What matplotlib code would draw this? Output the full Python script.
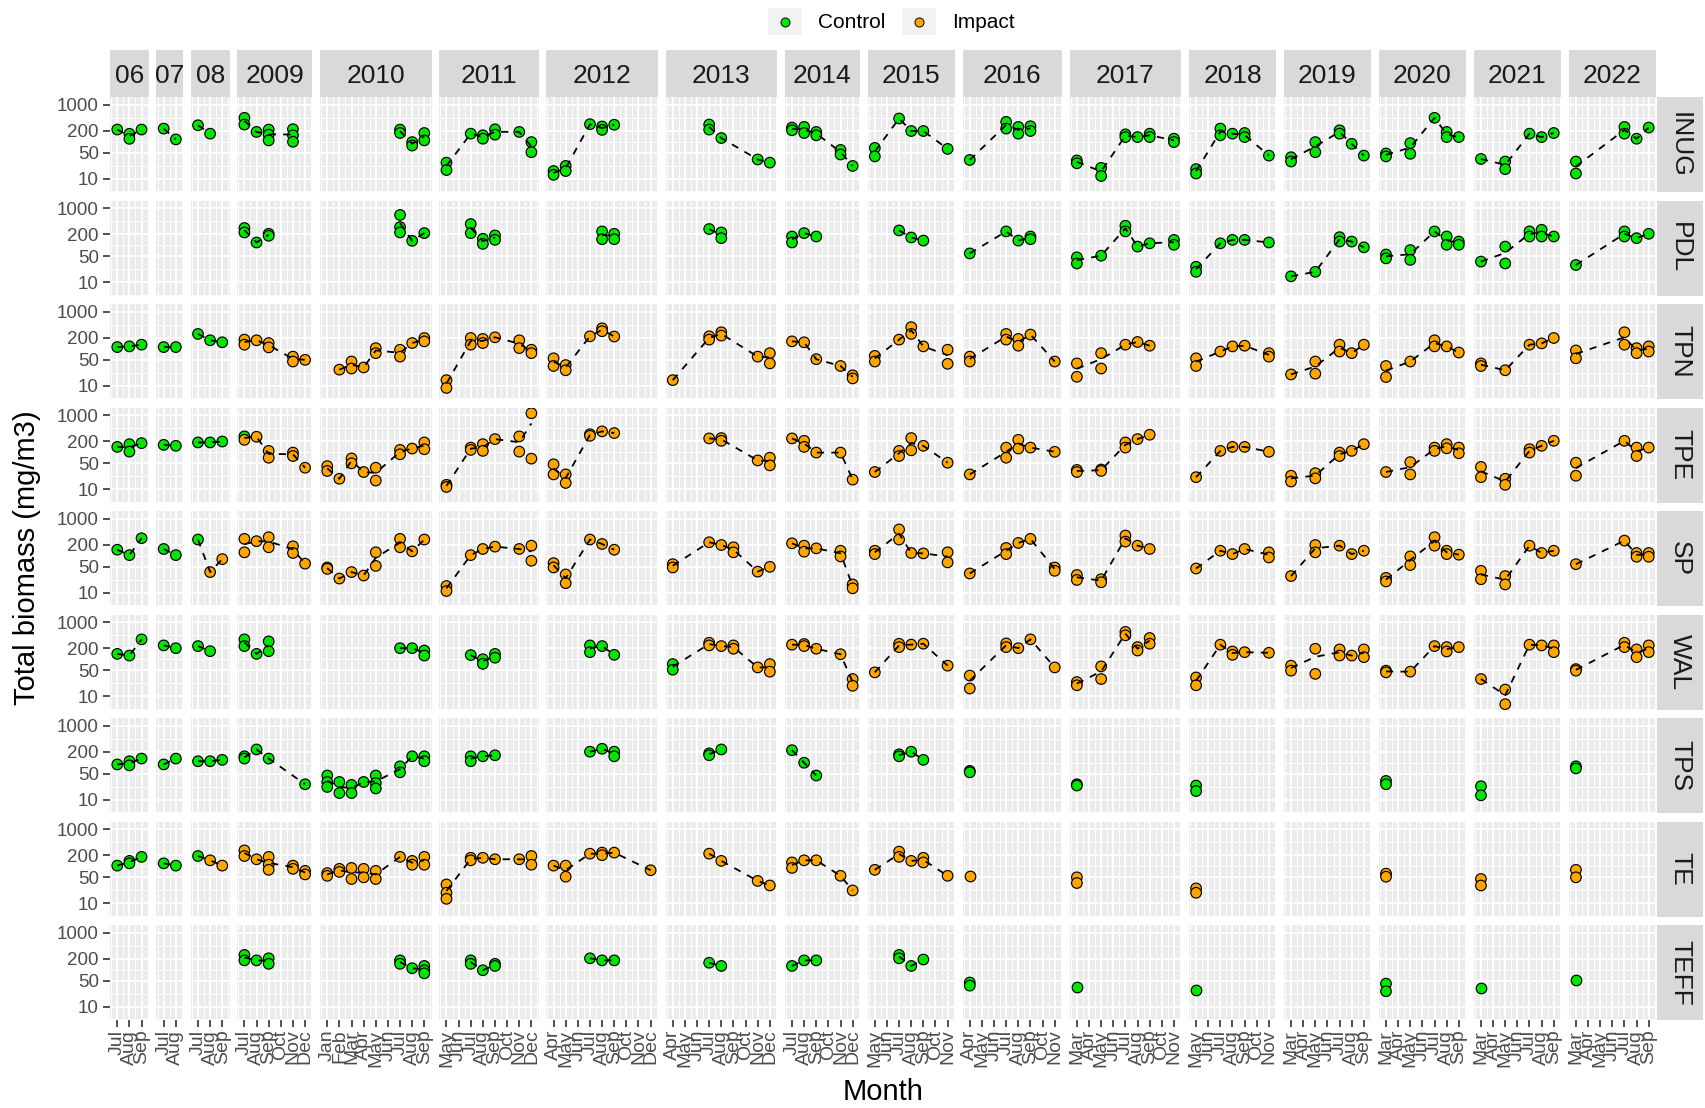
import matplotlib
matplotlib.use("Agg")
import matplotlib.pyplot as plt
from matplotlib.patches import Rectangle
from matplotlib.lines import Line2D
from matplotlib.ticker import FixedLocator, NullFormatter

plt.rcParams['font.family'] = ['Liberation Sans', 'DejaVu Sans']

MONTHS = ["Jan", "Feb", "Mar", "Apr", "May", "Jun", "Jul", "Aug", "Sep", "Oct", "Nov", "Dec"]
years = ["06", "07", "08", "2009", "2010", "2011", "2012", "2013", "2014", "2015",
         "2016", "2017", "2018", "2019", "2020", "2021", "2022"]
year_first = ["Jul", "Jul", "Jul", "Jul", "Jan", "May", "Apr", "Apr", "Jul", "May",
              "Apr", "Mar", "May", "Mar", "Mar", "Mar", "Mar"]
year_last = ["Sep", "Aug", "Sep", "Dec", "Sep", "Dec", "Dec", "Dec", "Dec", "Nov",
             "Nov", "Nov", "Nov", "Sep", "Sep", "Sep", "Sep"]
sites = ["INUG", "PDL", "TPN", "TPE", "SP", "WAL", "TPS", "TE", "TEFF"]
y_breaks = [10, 50, 200, 1000]
y_minor = [4.472, 22.36, 100, 447.2]
group_names = {"C": "Control", "I": "Impact"}
group_colors = {"C": "#00E600", "I": "#FFA500"}

# (year, month, group, values)
INUG = [
    ("06", "Jul", "C", [215]), ("06", "Aug", "C", [165, 120]), ("06", "Sep", "C", [215]),
    ("07", "Jul", "C", [228]), ("07", "Aug", "C", [116]),
    ("08", "Jul", "C", [281]), ("08", "Aug", "C", [166]),
    ("2009", "Jul", "C", [448, 294]), ("2009", "Aug", "C", [185]), ("2009", "Sep", "C", [214, 156, 109]),
    ("2009", "Nov", "C", [220, 150, 100]),
    ("2010", "Jul", "C", [214, 173]), ("2010", "Aug", "C", [98, 79]), ("2010", "Sep", "C", [173, 109]),
    ("2011", "May", "C", [27, 17]), ("2011", "Jul", "C", [166]), ("2011", "Aug", "C", [150, 121]),
    ("2011", "Sep", "C", [218, 156]), ("2011", "Nov", "C", [185]), ("2011", "Dec", "C", [98, 52]),
    ("2012", "Apr", "C", [16, 12.6]), ("2012", "May", "C", [22, 16]), ("2012", "Jul", "C", [300]),
    ("2012", "Aug", "C", [260, 210]), ("2012", "Sep", "C", [290]),
    ("2013", "Jul", "C", [294, 214]), ("2013", "Aug", "C", [126]), ("2013", "Nov", "C", [33]), ("2013", "Dec", "C", [27]),
    ("2014", "Jul", "C", [243, 205]), ("2014", "Aug", "C", [253, 173]), ("2014", "Sep", "C", [185, 150]),
    ("2014", "Nov", "C", [60, 45]), ("2014", "Dec", "C", [22]),
    ("2015", "May", "C", [68, 40]), ("2015", "Jul", "C", [430]), ("2015", "Aug", "C", [196]),
    ("2015", "Sep", "C", [196]), ("2015", "Nov", "C", [64]),
    ("2016", "Apr", "C", [32]), ("2016", "Jul", "C", [348, 228]), ("2016", "Aug", "C", [253, 166]),
    ("2016", "Sep", "C", [264, 196]),
    ("2017", "Mar", "C", [31, 26]), ("2017", "May", "C", [19.5, 11.7]), ("2017", "Jul", "C", [159, 134]),
    ("2017", "Aug", "C", [134]), ("2017", "Sep", "C", [166, 134]), ("2017", "Nov", "C", [121, 98]),
    ("2018", "May", "C", [18, 13.7]), ("2018", "Jul", "C", [228, 150]), ("2018", "Aug", "C", [166]),
    ("2018", "Sep", "C", [173, 134]), ("2018", "Nov", "C", [42]),
    ("2019", "Mar", "C", [38, 29]), ("2019", "May", "C", [98, 52]), ("2019", "Jul", "C", [205, 166]),
    ("2019", "Aug", "C", [88]), ("2019", "Sep", "C", [42]),
    ("2020", "Mar", "C", [48, 40]), ("2020", "May", "C", [92, 47]), ("2020", "Jul", "C", [448]),
    ("2020", "Aug", "C", [185, 134]), ("2020", "Sep", "C", [134]),
    ("2021", "Mar", "C", [34]), ("2021", "May", "C", [29, 18]), ("2021", "Jul", "C", [166]),
    ("2021", "Aug", "C", [134]), ("2021", "Sep", "C", [173]),
    ("2022", "Mar", "C", [29, 13.7]), ("2022", "Jul", "C", [253, 166]), ("2022", "Aug", "C", [121]),
    ("2022", "Sep", "C", [243]),
]

PDL = [
    ("2009", "Jul", "C", [294, 223]), ("2009", "Aug", "C", [119]), ("2009", "Sep", "C", [205, 181]),
    ("2010", "Jul", "C", [669, 313, 223]), ("2010", "Aug", "C", [132]), ("2010", "Sep", "C", [214]),
    ("2011", "Jul", "C", [378, 214]), ("2011", "Aug", "C", [150, 109]), ("2011", "Sep", "C", [185, 140]),
    ("2012", "Aug", "C", [238, 146]), ("2012", "Sep", "C", [205, 146]),
    ("2013", "Jul", "C", [276]), ("2013", "Aug", "C", [223, 156]),
    ("2014", "Jul", "C", [173, 119]), ("2014", "Aug", "C", [214]), ("2014", "Sep", "C", [173]),
    ("2015", "Jul", "C", [253]), ("2015", "Aug", "C", [163]), ("2015", "Sep", "C", [134]),
    ("2016", "Apr", "C", [60]), ("2016", "Jul", "C", [238]), ("2016", "Aug", "C", [134]),
    ("2016", "Sep", "C", [173, 146]),
    ("2017", "Mar", "C", [47, 32]), ("2017", "May", "C", [52]), ("2017", "Jul", "C", [340, 238]),
    ("2017", "Aug", "C", [92]), ("2017", "Sep", "C", [113]), ("2017", "Nov", "C", [140, 103]),
    ("2018", "May", "C", [26, 19]), ("2018", "Jul", "C", [113]), ("2018", "Aug", "C", [140]),
    ("2018", "Sep", "C", [140]), ("2018", "Nov", "C", [119]),
    ("2019", "Mar", "C", [14.3]), ("2019", "May", "C", [19]), ("2019", "Jul", "C", [166, 126]),
    ("2019", "Aug", "C", [126]), ("2019", "Sep", "C", [88]),
    ("2020", "Mar", "C", [56, 44]), ("2020", "May", "C", [74, 40]), ("2020", "Jul", "C", [238]),
    ("2020", "Aug", "C", [173, 103]), ("2020", "Sep", "C", [126, 103]),
    ("2021", "Mar", "C", [36]), ("2021", "May", "C", [92, 32]), ("2021", "Jul", "C", [238, 173]),
    ("2021", "Aug", "C", [264, 173]), ("2021", "Sep", "C", [173]),
    ("2022", "Mar", "C", [29]), ("2022", "Jul", "C", [238, 173]), ("2022", "Aug", "C", [156]),
    ("2022", "Sep", "C", [205]),
]

TPN = [
    ("06", "Jul", "C", [111]), ("06", "Aug", "C", [116]), ("06", "Sep", "C", [129]),
    ("07", "Jul", "C", [111]), ("07", "Aug", "C", [111]),
    ("08", "Jul", "C", [253]), ("08", "Aug", "C", [170]), ("08", "Sep", "C", [150]),
    ("2009", "Jul", "I", [177, 129]), ("2009", "Aug", "I", [170]), ("2009", "Sep", "I", [143, 109]),
    ("2009", "Nov", "I", [61, 45]), ("2009", "Dec", "I", [50]),
    ("2010", "Feb", "I", [27]), ("2010", "Mar", "I", [45, 29]), ("2010", "Apr", "I", [31]),
    ("2010", "May", "I", [104, 76]), ("2010", "Jul", "I", [94, 61]), ("2010", "Aug", "I", [143]),
    ("2010", "Sep", "I", [196, 159]),
    ("2011", "May", "I", [14, 8.6]), ("2011", "Jul", "I", [196, 129]), ("2011", "Aug", "I", [185, 143]),
    ("2011", "Sep", "I", [205]), ("2011", "Nov", "I", [170, 104]), ("2011", "Dec", "I", [94, 76]),
    ("2012", "Apr", "I", [55, 34]), ("2012", "May", "I", [36, 26]), ("2012", "Jul", "I", [218]),
    ("2012", "Aug", "I", [360, 300]), ("2012", "Sep", "I", [215]),
    ("2013", "Apr", "I", [14]), ("2013", "Jul", "I", [218, 177]), ("2013", "Aug", "I", [281, 228]),
    ("2013", "Nov", "I", [61]), ("2013", "Dec", "I", [76, 40]),
    ("2014", "Jul", "I", [159]), ("2014", "Aug", "I", [150]), ("2014", "Sep", "I", [52]),
    ("2014", "Nov", "I", [34]), ("2014", "Dec", "I", [19, 15.6]),
    ("2015", "May", "I", [64, 45]), ("2015", "Jul", "I", [177]), ("2015", "Aug", "I", [387, 253]),
    ("2015", "Sep", "I", [116]), ("2015", "Nov", "I", [94, 39]),
    ("2016", "Apr", "I", [61, 45]), ("2016", "Jul", "I", [253, 177]), ("2016", "Aug", "I", [185, 121]),
    ("2016", "Sep", "I", [243]), ("2016", "Nov", "I", [45]),
    ("2017", "Mar", "I", [40, 17.3]), ("2017", "May", "I", [76, 29]), ("2017", "Jul", "I", [129]),
    ("2017", "Aug", "I", [153]), ("2017", "Sep", "I", [121]),
    ("2018", "May", "I", [55, 34]), ("2018", "Jul", "I", [84]), ("2018", "Aug", "I", [116]),
    ("2018", "Sep", "I", [121]), ("2018", "Nov", "I", [76, 61]),
    ("2019", "Mar", "I", [20]), ("2019", "May", "I", [45, 21]), ("2019", "Jul", "I", [129, 84]),
    ("2019", "Aug", "I", [76]), ("2019", "Sep", "I", [129]),
    ("2020", "Mar", "I", [34, 17]), ("2020", "May", "I", [45]), ("2020", "Jul", "I", [170, 116]),
    ("2020", "Aug", "I", [116]), ("2020", "Sep", "I", [79]),
    ("2021", "Mar", "I", [40, 34]), ("2021", "May", "I", [26]), ("2021", "Jul", "I", [129]),
    ("2021", "Aug", "I", [140]), ("2021", "Sep", "I", [196]),
    ("2022", "Mar", "I", [90, 55]), ("2022", "Jul", "I", [281, 129]), ("2022", "Aug", "I", [104, 76]),
    ("2022", "Sep", "I", [116, 84]),
]

TPE = [
    ("06", "Jul", "C", [140]), ("06", "Aug", "C", [166, 104]), ("06", "Sep", "C", [177]),
    ("07", "Jul", "C", [159]), ("07", "Aug", "C", [150]),
    ("08", "Jul", "C", [185]), ("08", "Aug", "C", [185]), ("08", "Sep", "C", [196]),
    ("2009", "Jul", "C", [270]), ("2009", "Jul", "I", [218]), ("2009", "Aug", "I", [264]),
    ("2009", "Sep", "I", [109, 71]), ("2009", "Nov", "I", [98, 79]), ("2009", "Dec", "I", [38]),
    ("2010", "Jan", "I", [42, 31]), ("2010", "Feb", "I", [19]), ("2010", "Mar", "I", [68, 50]),
    ("2010", "Apr", "I", [29]), ("2010", "May", "I", [38, 17]), ("2010", "Jul", "I", [116, 88]),
    ("2010", "Aug", "I", [126]), ("2010", "Sep", "I", [185, 121]),
    ("2011", "May", "I", [13, 11.4]), ("2011", "Jul", "I", [134, 116]), ("2011", "Aug", "I", [166, 109]),
    ("2011", "Sep", "I", [228]), ("2011", "Nov", "I", [270, 104]), ("2011", "Dec", "I", [1150, 67]),
    ("2012", "Apr", "I", [47, 25]), ("2012", "May", "I", [25, 14.6]), ("2012", "Jul", "I", [310, 280]),
    ("2012", "Aug", "I", [370]), ("2012", "Sep", "I", [333]),
    ("2013", "Jul", "I", [238]), ("2013", "Aug", "I", [243, 205]), ("2013", "Nov", "I", [60]),
    ("2013", "Dec", "I", [71, 44]),
    ("2014", "Jul", "I", [238]), ("2014", "Aug", "I", [205, 140]), ("2014", "Sep", "I", [98]),
    ("2014", "Nov", "I", [98]), ("2014", "Dec", "I", [18]),
    ("2015", "May", "I", [29]), ("2015", "Jul", "I", [109, 79]), ("2015", "Aug", "I", [243, 113]),
    ("2015", "Sep", "I", [150]), ("2015", "Nov", "I", [52]),
    ("2016", "Apr", "I", [25]), ("2016", "Jul", "I", [134, 71]), ("2016", "Aug", "I", [218, 126]),
    ("2016", "Sep", "I", [134]), ("2016", "Nov", "I", [103]),
    ("2017", "Mar", "I", [33, 29]), ("2017", "May", "I", [34, 31]), ("2017", "Jul", "I", [185, 134]),
    ("2017", "Aug", "I", [228]), ("2017", "Sep", "I", [300]),
    ("2018", "May", "I", [21]), ("2018", "Jul", "I", [109]), ("2018", "Aug", "I", [140]),
    ("2018", "Sep", "I", [140]), ("2018", "Nov", "I", [103]),
    ("2019", "Mar", "I", [23, 16]), ("2019", "May", "I", [27, 19.5]), ("2019", "Jul", "I", [98, 79]),
    ("2019", "Aug", "I", [109]), ("2019", "Sep", "I", [166]),
    ("2020", "Mar", "I", [29]), ("2020", "May", "I", [54, 25]), ("2020", "Jul", "I", [134, 109]),
    ("2020", "Aug", "I", [166, 128]), ("2020", "Sep", "I", [134, 94]),
    ("2021", "Mar", "I", [40, 21]), ("2021", "May", "I", [19, 13]), ("2021", "Jul", "I", [121, 98]),
    ("2021", "Aug", "I", [150]), ("2021", "Sep", "I", [205]),
    ("2022", "Mar", "I", [52, 23]), ("2022", "Jul", "I", [205]), ("2022", "Aug", "I", [134, 79]),
    ("2022", "Sep", "I", [134]),
]

SP = [
    ("06", "Jul", "C", [146]), ("06", "Aug", "C", [104]), ("06", "Sep", "C", [300]),
    ("07", "Jul", "C", [153]), ("07", "Aug", "C", [104]),
    ("08", "Jul", "C", [276]), ("08", "Aug", "I", [36]), ("08", "Sep", "I", [81]),
    ("2009", "Jul", "I", [288, 124]), ("2009", "Aug", "I", [249]), ("2009", "Sep", "I", [320, 170]),
    ("2009", "Nov", "I", [181, 119]), ("2009", "Dec", "I", [61]),
    ("2010", "Jan", "I", [48, 44]), ("2010", "Feb", "I", [24]), ("2010", "Mar", "I", [36]),
    ("2010", "Apr", "I", [29]), ("2010", "May", "I", [124, 53]), ("2010", "Jul", "I", [288, 170]),
    ("2010", "Aug", "I", [132]), ("2010", "Sep", "I", [276]),
    ("2011", "May", "I", [15, 11]), ("2011", "Jul", "I", [104]), ("2011", "Aug", "I", [153]),
    ("2011", "Sep", "I", [177]), ("2011", "Nov", "I", [153]), ("2011", "Dec", "I", [188, 73]),
    ("2012", "Apr", "I", [63, 48]), ("2012", "May", "I", [31, 18]), ("2012", "Jul", "I", [276]),
    ("2012", "Aug", "I", [209]), ("2012", "Sep", "I", [146]),
    ("2013", "Apr", "I", [59, 48]), ("2013", "Jul", "I", [233]), ("2013", "Aug", "I", [196]),
    ("2013", "Sep", "I", [170, 124]), ("2013", "Nov", "I", [37]), ("2013", "Dec", "I", [50]),
    ("2014", "Jul", "I", [218]), ("2014", "Aug", "I", [188, 129]), ("2014", "Sep", "I", [159]),
    ("2014", "Nov", "I", [137, 96]), ("2014", "Dec", "I", [16.6, 13]),
    ("2015", "May", "I", [137, 111]), ("2015", "Jul", "I", [520, 276]), ("2015", "Aug", "I", [119]),
    ("2015", "Sep", "I", [116]), ("2015", "Nov", "I", [124, 66]),
    ("2016", "Apr", "I", [33]), ("2016", "Jul", "I", [163, 111]), ("2016", "Aug", "I", [223]),
    ("2016", "Sep", "I", [288]), ("2016", "Nov", "I", [48, 39]),
    ("2017", "Mar", "I", [30, 22]), ("2017", "May", "I", [23, 19]), ("2017", "Jul", "I", [355, 243]),
    ("2017", "Aug", "I", [188]), ("2017", "Sep", "I", [153]),
    ("2018", "May", "I", [45]), ("2018", "Jul", "I", [137]), ("2018", "Aug", "I", [111]),
    ("2018", "Sep", "I", [153]), ("2018", "Nov", "I", [124, 90]),
    ("2019", "Mar", "I", [28]), ("2019", "May", "I", [196, 124]), ("2019", "Jul", "I", [188]),
    ("2019", "Aug", "I", [111]), ("2019", "Sep", "I", [137]),
    ("2020", "Mar", "I", [25, 20]), ("2020", "May", "I", [96, 56]), ("2020", "Jul", "I", [320, 188]),
    ("2020", "Aug", "I", [137, 111]), ("2020", "Sep", "I", [107]),
    ("2021", "Mar", "I", [39, 23]), ("2021", "May", "I", [28, 16.6]), ("2021", "Jul", "I", [188]),
    ("2021", "Aug", "I", [119]), ("2021", "Sep", "I", [137]),
    ("2022", "Mar", "I", [59]), ("2022", "Jul", "I", [258]), ("2022", "Aug", "I", [119, 94]),
    ("2022", "Sep", "I", [119, 94]),
]

WAL = [
    ("06", "Jul", "C", [140]), ("06", "Aug", "C", [126]), ("06", "Sep", "C", [348]),
    ("07", "Jul", "C", [238]), ("07", "Aug", "C", [200]),
    ("08", "Jul", "C", [228]), ("08", "Aug", "C", [166]),
    ("2009", "Jul", "C", [348, 228]), ("2009", "Aug", "C", [140]), ("2009", "Sep", "C", [306, 166]),
    ("2010", "Jul", "C", [200]), ("2010", "Aug", "C", [200]), ("2010", "Sep", "C", [173, 126]),
    ("2011", "Jul", "C", [130]), ("2011", "Aug", "C", [100, 75]), ("2011", "Sep", "C", [140, 110]),
    ("2012", "Jul", "C", [238, 156]), ("2012", "Aug", "C", [228]), ("2012", "Sep", "C", [132]),
    ("2013", "Apr", "C", [74, 52]), ("2013", "Jul", "I", [281, 238]), ("2013", "Aug", "I", [228]),
    ("2013", "Sep", "I", [238, 193]), ("2013", "Nov", "I", [60]), ("2013", "Dec", "I", [74, 46]),
    ("2014", "Jul", "I", [249]), ("2014", "Aug", "I", [260, 228]), ("2014", "Sep", "I", [193]),
    ("2014", "Nov", "I", [137]), ("2014", "Dec", "I", [29, 19]),
    ("2015", "May", "I", [44]), ("2015", "Jul", "I", [264, 214]), ("2015", "Aug", "I", [250]),
    ("2015", "Sep", "I", [265]), ("2015", "Nov", "I", [67]),
    ("2016", "Apr", "I", [36, 16]), ("2016", "Jul", "I", [270, 214]), ("2016", "Aug", "I", [200]),
    ("2016", "Sep", "I", [348]), ("2016", "Nov", "I", [60]),
    ("2017", "Mar", "I", [24, 19.6]), ("2017", "May", "I", [64, 29]), ("2017", "Jul", "I", [555, 448]),
    ("2017", "Aug", "I", [214, 173]), ("2017", "Sep", "I", [378, 264]),
    ("2018", "May", "I", [32, 19.6]), ("2018", "Jul", "I", [249]), ("2018", "Aug", "I", [163, 132]),
    ("2018", "Sep", "I", [156]), ("2018", "Nov", "I", [150]),
    ("2019", "Mar", "I", [67, 49]), ("2019", "May", "I", [193, 40]), ("2019", "Jul", "I", [185, 126]),
    ("2019", "Aug", "I", [126]), ("2019", "Sep", "I", [185, 114]),
    ("2020", "Mar", "I", [49, 44]), ("2020", "May", "I", [46]), ("2020", "Jul", "I", [228]),
    ("2020", "Aug", "I", [214, 163]), ("2020", "Sep", "I", [214]),
    ("2021", "Mar", "I", [29]), ("2021", "May", "I", [15, 6.0]), ("2021", "Jul", "I", [249]),
    ("2021", "Aug", "I", [238]), ("2021", "Sep", "I", [238, 156]),
    ("2022", "Mar", "I", [54, 49]), ("2022", "Jul", "I", [281, 214]), ("2022", "Aug", "I", [185, 114]),
    ("2022", "Sep", "I", [238, 156]),
]

TPS = [
    ("06", "Jul", "C", [90]), ("06", "Aug", "C", [110, 85]), ("06", "Sep", "C", [130]),
    ("07", "Jul", "C", [90]), ("07", "Aug", "C", [130]),
    ("08", "Jul", "C", [110]), ("08", "Aug", "C", [110]), ("08", "Sep", "C", [120]),
    ("2009", "Jul", "C", [150, 130]), ("2009", "Aug", "C", [230]), ("2009", "Sep", "C", [130]),
    ("2009", "Dec", "C", [26]),
    ("2010", "Jan", "C", [45, 30, 22]), ("2010", "Feb", "C", [30, 15]), ("2010", "Mar", "C", [25, 15]),
    ("2010", "Apr", "C", [30]), ("2010", "May", "C", [45, 28, 20]), ("2010", "Jul", "C", [80, 55]),
    ("2010", "Aug", "C", [150]), ("2010", "Sep", "C", [150, 110]),
    ("2011", "Jul", "C", [150, 110]), ("2011", "Aug", "C", [150]), ("2011", "Sep", "C", [160]),
    ("2012", "Jul", "C", [200]), ("2012", "Aug", "C", [240]), ("2012", "Sep", "C", [200, 150]),
    ("2013", "Jul", "C", [180, 160]), ("2013", "Aug", "C", [230]),
    ("2014", "Jul", "C", [220]), ("2014", "Aug", "C", [100]), ("2014", "Sep", "C", [45]),
    ("2015", "Jul", "C", [170, 150]), ("2015", "Aug", "C", [200]), ("2015", "Sep", "C", [120]),
    ("2016", "Apr", "C", [60, 55]),
    ("2017", "Mar", "C", [26, 24]),
    ("2018", "May", "C", [24, 17]),
    ("2020", "Mar", "C", [32, 26]),
    ("2021", "Mar", "C", [23, 13]),
    ("2022", "Mar", "C", [80, 70]),
]

TE = [
    ("06", "Jul", "C", [104]), ("06", "Aug", "C", [140, 120]), ("06", "Sep", "C", [180]),
    ("07", "Jul", "C", [120]), ("07", "Aug", "C", [104]),
    ("08", "Jul", "C", [190]), ("08", "Aug", "I", [145]), ("08", "Sep", "I", [104]),
    ("2009", "Jul", "I", [270, 190]), ("2009", "Aug", "I", [155]), ("2009", "Sep", "I", [180, 110, 80]),
    ("2009", "Nov", "I", [104, 85]), ("2009", "Dec", "I", [75, 60]),
    ("2010", "Jan", "I", [65, 55]), ("2010", "Feb", "I", [85, 70]), ("2010", "Mar", "I", [90, 45]),
    ("2010", "Apr", "I", [85, 50]), ("2010", "May", "I", [75, 45]), ("2010", "Jul", "I", [180]),
    ("2010", "Aug", "I", [140, 110]), ("2010", "Sep", "I", [180, 110]),
    ("2011", "May", "I", [32, 19, 13]), ("2011", "Jul", "I", [170, 145]), ("2011", "Aug", "I", [170]),
    ("2011", "Sep", "I", [155]), ("2011", "Nov", "I", [155]), ("2011", "Dec", "I", [190, 110]),
    ("2012", "Apr", "I", [104]), ("2012", "May", "I", [104, 52]), ("2012", "Jul", "I", [220]),
    ("2012", "Aug", "I", [235, 200]), ("2012", "Sep", "I", [235]), ("2012", "Dec", "I", [78]),
    ("2013", "Jul", "I", [220]), ("2013", "Aug", "I", [140]), ("2013", "Nov", "I", [40]),
    ("2013", "Dec", "I", [30]),
    ("2014", "Jul", "I", [127, 90]), ("2014", "Aug", "I", [145]), ("2014", "Sep", "I", [145]),
    ("2014", "Nov", "I", [55]), ("2014", "Dec", "I", [22]),
    ("2015", "May", "I", [80]), ("2015", "Jul", "I", [250, 180]), ("2015", "Aug", "I", [140]),
    ("2015", "Sep", "I", [170, 127]), ("2015", "Nov", "I", [55]),
    ("2016", "Apr", "I", [55]),
    ("2017", "Mar", "I", [50, 35]),
    ("2018", "May", "I", [25, 19]),
    ("2020", "Mar", "I", [63, 52]),
    ("2021", "Mar", "I", [45, 30]),
    ("2022", "Mar", "I", [80, 50]),
]

TEFF = [
    ("2009", "Jul", "C", [253, 180]), ("2009", "Aug", "C", [180]), ("2009", "Sep", "C", [205, 145]),
    ("2010", "Jul", "C", [180, 145]), ("2010", "Aug", "C", [110]), ("2010", "Sep", "C", [127, 97, 80]),
    ("2011", "Jul", "C", [180, 145]), ("2011", "Aug", "C", [97]), ("2011", "Sep", "C", [145, 127]),
    ("2012", "Jul", "C", [205]), ("2012", "Aug", "C", [180]), ("2012", "Sep", "C", [180]),
    ("2013", "Jul", "C", [155]), ("2013", "Aug", "C", [127]),
    ("2014", "Jul", "C", [127]), ("2014", "Aug", "C", [180]), ("2014", "Sep", "C", [180]),
    ("2015", "Jul", "C", [253, 205]), ("2015", "Aug", "C", [127]), ("2015", "Sep", "C", [190]),
    ("2016", "Apr", "C", [45, 37]),
    ("2017", "Mar", "C", [35]),
    ("2018", "May", "C", [28]),
    ("2020", "Mar", "C", [42, 26]),
    ("2021", "Mar", "C", [32]),
    ("2022", "Mar", "C", [52]),
]

site_data = {"INUG": INUG, "PDL": PDL, "TPN": TPN, "TPE": TPE, "SP": SP,
             "WAL": WAL, "TPS": TPS, "TE": TE, "TEFF": TEFF}

# ---------------- layout (pixels) ----------------
W, H = 1705, 1108
fig = plt.figure(figsize=(W / 100, H / 100), dpi=100)
fig.patch.set_facecolor("white")

left0, right0 = 110, 1656
hgap = 7.6
top0, panel_h, vgap = 97, 95, 8.5
strip_top_h = 47
strip_right_x, strip_right_w = 1657, 46

mnum = {m: i + 1 for i, m in enumerate(MONTHS)}
first_num = [mnum[m] for m in year_first]
last_num = [mnum[m] for m in year_last]
units = [(l - f) + 1.2 for f, l in zip(first_num, last_num)]
unit_px = (right0 - left0 - hgap * (len(years) - 1)) / sum(units)


def fig_rect(x, y, w, h):
    return [x / W, 1 - (y + h) / H, w / W, h / H]


col_x = []
x = left0
for u in units:
    col_x.append((x, u * unit_px))
    x += u * unit_px + hgap

label_col = "#4D4D4D"
tick_col = "#333333"

for r, site in enumerate(sites):
    ytop = top0 + r * (panel_h + vgap)
    records = site_data[site]
    for c, yr in enumerate(years):
        px, pw = col_x[c]
        ax = fig.add_axes(fig_rect(px, ytop, pw, panel_h))
        ax.set_facecolor("#EBEBEB")
        for s in ax.spines.values():
            s.set_visible(False)
        ax.set_yscale("log")
        f, l = first_num[c], last_num[c]
        ax.set_xlim(f - 0.6, l + 0.6)
        ax.set_ylim(4.3, 1650)
        ax.xaxis.set_major_locator(FixedLocator(list(range(f, l + 1))))
        ax.xaxis.set_minor_locator(FixedLocator([f - 0.5 + i for i in range(l - f + 2)]))
        ax.yaxis.set_major_locator(FixedLocator(y_breaks))
        ax.yaxis.set_minor_locator(FixedLocator(y_minor))
        ax.yaxis.set_minor_formatter(NullFormatter())
        ax.xaxis.set_minor_formatter(NullFormatter())
        ax.grid(which="major", color="white", linewidth=1.3)
        ax.grid(which="minor", color="white", linewidth=0.65)
        ax.set_axisbelow(True)
        ax.tick_params(which="minor", length=0)
        if c == 0:
            ax.set_yticklabels([str(b) for b in y_breaks])
            ax.tick_params(axis="y", which="major", length=5, width=1.2, color=tick_col,
                           labelsize=13.5, labelcolor=label_col, pad=3)
        else:
            ax.set_yticklabels([])
            ax.tick_params(axis="y", which="major", length=0)
        if r == len(sites) - 1:
            ax.set_xticklabels(MONTHS[f - 1:l], rotation=90)
            ax.tick_params(axis="x", which="major", length=5, width=1.2, color=tick_col,
                           labelsize=14, labelcolor=label_col, pad=2)
        else:
            ax.set_xticklabels([])
            ax.tick_params(axis="x", which="major", length=0)

        recs = [rec for rec in records if rec[0] == yr]
        xs, ys, cs = [], [], []
        by_month = {}
        for (_, mon, grp, vals) in recs:
            for v in vals:
                xs.append(mnum[mon])
                ys.append(v)
                cs.append(group_colors[grp])
                by_month.setdefault(mnum[mon], []).append(v)
        if xs:
            ax.scatter(xs, ys, s=58, c=cs, edgecolors="black", linewidths=0.85, zorder=3)
        if len(by_month) > 1:
            ms = sorted(by_month)
            means = [sum(by_month[m]) / len(by_month[m]) for m in ms]
            ax.plot(ms, means, color="black", linewidth=1.3, dashes=(4, 4), zorder=4)

        if r == 0:
            sax = fig.add_axes(fig_rect(px, top0 - strip_top_h, pw, strip_top_h))
            sax.set_facecolor("#D9D9D9")
            sax.set_xticks([]); sax.set_yticks([])
            for s in sax.spines.values():
                s.set_visible(False)
            sax.text(0.5, 0.45, yr, ha="center", va="center", fontsize=19,
                     color="#1A1A1A", transform=sax.transAxes)

    rax = fig.add_axes(fig_rect(strip_right_x, ytop, strip_right_w, panel_h))
    rax.set_facecolor("#D9D9D9")
    rax.set_xticks([]); rax.set_yticks([])
    for s in rax.spines.values():
        s.set_visible(False)
    rax.text(0.5, 0.5, site, ha="center", va="center", rotation=-90, fontsize=19,
             color="#1A1A1A", transform=rax.transAxes)

# axis titles
fig.text(27 / W, 1 - 558 / H, "Total biomass (mg/m3)", rotation=90, ha="center",
         va="center", fontsize=21, color="black")
fig.text(883 / W, 1 - 1092 / H, "Month", ha="center", va="center", fontsize=21,
         color="black")

# legend
leg_items = [("C", 768, 818), ("I", 902, 952)]
for grp, kx, tx in leg_items:
    fig.add_artist(Rectangle((kx / W, 1 - 35 / H), 34 / W, 27 / H, transform=fig.transFigure,
                             facecolor="#F2F2F2", edgecolor="none"))
    fig.add_artist(Line2D([(kx + 17) / W], [1 - 21.5 / H], marker="o", markersize=6.5,
                          markerfacecolor=group_colors[grp], markeredgecolor="black",
                          markeredgewidth=0.7, linestyle="none", transform=fig.transFigure))
    fig.text(tx / W, 1 - 22 / H, group_names[grp], ha="left", va="center", fontsize=15,
             color="black")

fig.savefig("out.png", dpi=100, facecolor="white")
